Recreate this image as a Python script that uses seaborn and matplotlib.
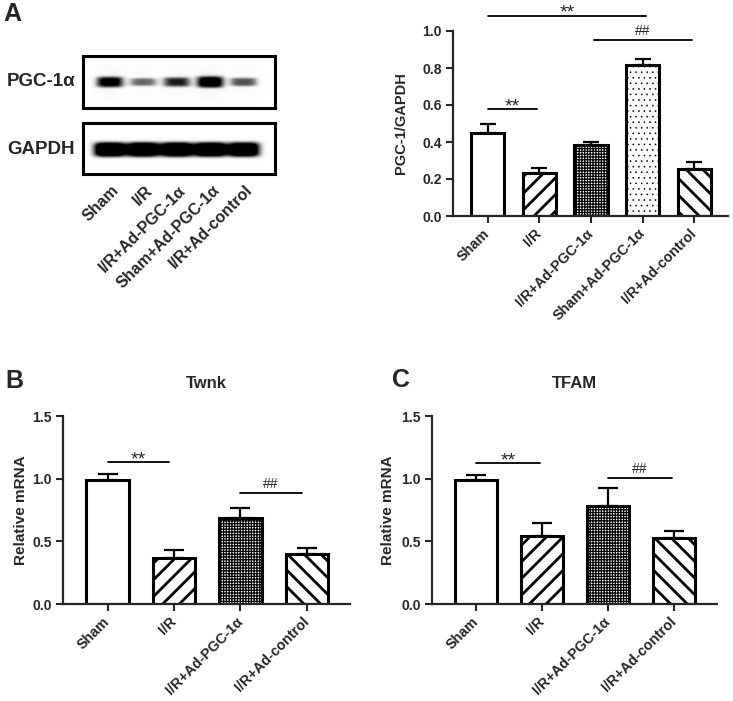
import numpy as np
import matplotlib
matplotlib.use("Agg")
import matplotlib.pyplot as plt
import seaborn as sns

# --- data ---
groups_a = ['Sham', 'I/R', 'I/R+Ad-PGC-1α', 'Sham+Ad-PGC-1α', 'I/R+Ad-control']
pgc_ratio = [0.45, 0.235, 0.385, 0.815, 0.255]
pgc_sem = [0.05, 0.027, 0.017, 0.033, 0.037]

groups_bc = ['Sham', 'I/R', 'I/R+Ad-PGC-1α', 'I/R+Ad-control']
twnk_mrna = [0.99, 0.365, 0.69, 0.395]
twnk_sem = [0.045, 0.065, 0.075, 0.05]
tfam_mrna = [0.99, 0.545, 0.78, 0.525]
tfam_sem = [0.04, 0.105, 0.145, 0.055]

# western blot band strength (relative, by eye)
pgc_band = [0.9, 0.55, 0.75, 1.0, 0.62]
gapdh_band = [1.0, 1.0, 1.0, 1.0, 0.97]

# significance brackets: (left bar, right bar, height, mark)
sig_a = [(0, 0.95, 0.578, '**'), (0, 3.07, 1.083, '**'), (2.05, 3.95, 0.95, '##')]
sig_b = [(0, 0.93, 1.133, '**'), (2, 2.92, 0.888, '##')]
sig_c = [(0, 0.97, 1.125, '**'), (2, 2.97, 1.008, '##')]

sns.set_style("ticks")
plt.rcParams['font.family'] = ['Liberation Sans', 'DejaVu Sans']
plt.rcParams['font.weight'] = 'bold'
plt.rcParams['axes.labelweight'] = 'bold'
plt.rcParams['axes.titleweight'] = 'bold'
plt.rcParams['hatch.linewidth'] = 2.0

# fill styles per group name
styles = {
    'Sham': dict(fc='white', hatch=None, hlw=None),
    'I/R': dict(fc='white', hatch='//', hlw=2.0),
    'I/R+Ad-PGC-1α': dict(fc='white', hatch='++++++', hlw=0.9),
    'Sham+Ad-PGC-1α': dict(fc='white', hatch='...', hlw=0.4),
    'I/R+Ad-control': dict(fc='white', hatch='\\\\', hlw=2.0),
}


def bar_panel(ax, labels, vals, sems, sigs, ylim, yticks, cap):
    sns.barplot(x=labels, y=vals, ax=ax, width=0.64, color='white',
                edgecolor='black', linewidth=2.2, zorder=2)
    for p, lab in zip(ax.patches, labels):
        st = styles[lab]
        p.set_facecolor(st['fc'])
        if st['hatch']:
            p.set_hatch(st['hatch'])
            if hasattr(p, 'set_hatch_linewidth'):
                p.set_hatch_linewidth(st['hlw'])
    x = np.arange(len(labels))
    ax.errorbar(x, vals, yerr=[np.zeros(len(vals)), sems], fmt='none',
                ecolor='black', elinewidth=1.6, capsize=cap, capthick=1.6, zorder=1)
    for x1, x2, y, mark in sigs:
        ax.plot([x1, x2], [y, y], color='black', lw=1.3, clip_on=False)
        if mark == '**':
            ax.annotate(mark, xy=((x1 + x2) / 2, y), xytext=(0, -1.5),
                        textcoords='offset points', ha='center', va='baseline',
                        fontsize=14, fontweight='normal', annotation_clip=False)
        else:
            ax.annotate(mark, xy=((x1 + x2) / 2, y), xytext=(0, 3.5),
                        textcoords='offset points', ha='center', va='baseline',
                        fontsize=10, fontweight='normal', annotation_clip=False)
    ax.set_ylim(*ylim)
    ax.set_yticks(yticks)
    ax.set_yticklabels([f'{t:.1f}' for t in yticks])
    ax.set_xlim(-0.67, len(labels) - 1 + 0.65)
    ax.set_xticks(x)
    ax.set_xticklabels(labels, rotation=45, ha='right', va='center',
                       rotation_mode='anchor', fontsize=10.3)
    ax.tick_params(axis='y', labelsize=10, width=1.5, length=5, pad=3)
    ax.tick_params(axis='x', width=1.5, length=5, pad=6)
    ax.set_xlabel('')
    sns.despine(ax=ax)
    for s in ['left', 'bottom']:
        ax.spines[s].set_linewidth(1.6)


def blot(ax, bands, kind):
    xs = np.linspace(-0.8, 4.93, 460)
    ys = np.linspace(-1, 1, 160)
    X, Y = np.meshgrid(xs, ys)
    img = np.zeros_like(X)
    for i, a in enumerate(bands):
        if kind == 'pgc':
            h = 0.08 + 0.15 * a
            img += 1.15 * a * np.exp(-((X - i) / 0.42) ** 4 - (Y / h) ** 4)
            img += 0.08 * a * np.exp(-((X - i) / 0.42) ** 2 - (Y / 0.7) ** 2)
        else:
            img += 1.5 * a * np.exp(-((X - i) / 0.50) ** 4 - ((Y + 0.04) / 0.30) ** 4)
    ax.imshow(np.clip(img, 0, 1), extent=[-0.8, 4.93, -1, 1], origin='lower',
              cmap='Greys', vmin=0, vmax=1, aspect='auto', interpolation='bilinear')
    ax.set_xlim(-0.8, 4.93)
    ax.set_ylim(-1, 1)
    ax.set_yticks([])
    for s in ax.spines.values():
        s.set_visible(True)
        s.set_linewidth(2.2)
        s.set_color('black')


fig = plt.figure(figsize=(7.33, 7.01), dpi=100)

# --- A: western blot ---
ax_pgc = fig.add_axes([83 / 733, 1 - 108 / 701, 192 / 733, 52 / 701])
ax_gap = fig.add_axes([83 / 733, 1 - 174 / 701, 192 / 733, 51 / 701])
blot(ax_pgc, pgc_band, 'pgc')
blot(ax_gap, gapdh_band, 'gapdh')
ax_pgc.set_xticks([])
ax_gap.set_xticks(np.arange(len(groups_a)) + 0.2)
ax_gap.set_xticklabels(groups_a, rotation=45, ha='right', va='center',
                       rotation_mode='anchor', fontsize=11.5)
ax_gap.tick_params(axis='x', length=0, pad=10)
fig.text(7 / 733, 1 - 82 / 701, 'PGC-1α', fontsize=13.5, va='center', ha='left')
fig.text(7 / 733, 1 - 149 / 701, 'GAPDH', fontsize=13.5, va='center', ha='left')

# --- A: quantification ---
ax_a = fig.add_axes([453 / 733, 1 - 216 / 701, 275 / 733, 185 / 701])
bar_panel(ax_a, groups_a, pgc_ratio, pgc_sem, sig_a, (0, 1.0),
          [0, 0.2, 0.4, 0.6, 0.8, 1.0], 5.5)
ax_a.set_ylabel('PGC-1/GAPDH', fontsize=10.5)
ax_a.yaxis.set_label_coords(-0.165, 0.5)

# --- B: Twnk ---
ax_b = fig.add_axes([63 / 733, 1 - 604 / 701, 287 / 733, 188 / 701])
bar_panel(ax_b, groups_bc, twnk_mrna, twnk_sem, sig_b, (0, 1.5),
          [0, 0.5, 1.0, 1.5], 7)
ax_b.set_ylabel('Relative mRNA', fontsize=11)
ax_b.yaxis.set_label_coords(-0.122, 0.5)
ax_b.set_title('Twnk', fontsize=12, pad=20)

# --- C: TFAM ---
ax_c = fig.add_axes([432 / 733, 1 - 604 / 701, 285 / 733, 188 / 701])
bar_panel(ax_c, groups_bc, tfam_mrna, tfam_sem, sig_c, (0, 1.5),
          [0, 0.5, 1.0, 1.5], 7)
ax_c.set_ylabel('Relative mRNA', fontsize=11)
ax_c.yaxis.set_label_coords(-0.13, 0.5)
ax_c.set_title('TFAM', fontsize=12, pad=20)

fig.text(3 / 733, 1 - 14 / 701, 'A', fontsize=18, va='center', ha='left')
fig.text(5 / 733, 1 - 381 / 701, 'B', fontsize=18, va='center', ha='left')
fig.text(392 / 733, 1 - 380 / 701, 'C', fontsize=18, va='center', ha='left')

fig.savefig('out.png', dpi=100)
